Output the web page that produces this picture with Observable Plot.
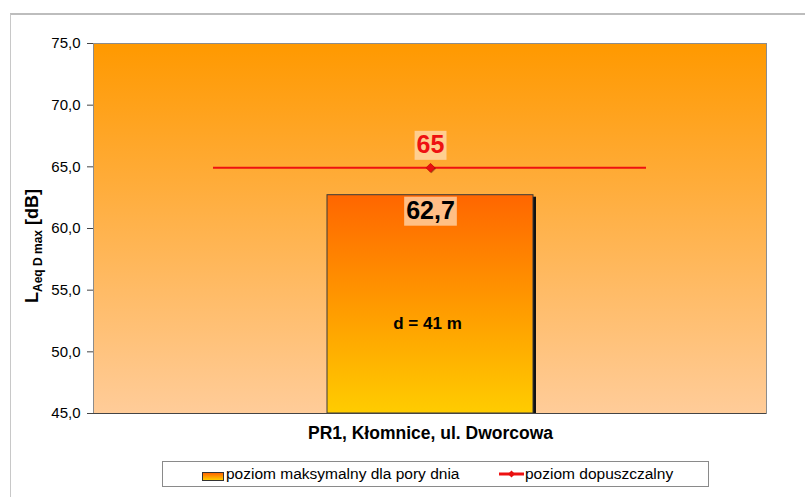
<!DOCTYPE html>
<html>
<head>
<meta charset="utf-8">
<script src="https://cdn.jsdelivr.net/npm/d3@7"></script>
<script src="https://cdn.jsdelivr.net/npm/@observablehq/plot@0.6"></script>
<style>
  html, body { margin: 0; padding: 0; background: #fff; }
  #wrap { position: relative; width: 805px; height: 497px; overflow: hidden; font-family: "Liberation Sans", Arial, sans-serif; }
  #border { position: absolute; left: 10px; top: 13px; width: 820px; height: 520px; border-top: 2px solid #bdbdbd; border-left: 1px solid #c8c8c8; }
  #chart { position: absolute; left: 0; top: 0; }
  #legend { position: absolute; left: 162px; top: 461px; width: 545px; height: 24px; border: 1px solid #8a8a8a; background: #fff; font-size: 15.5px; color: #000; }
  .item { position: absolute; top: 0; height: 24px; line-height: 24px; white-space: nowrap; }
  .swatch { position: absolute; width: 20px; height: 7px; top: 10px; border: 1px solid #333; background: linear-gradient(#ff6600, #ffcc00); }
</style>
</head>
<body>
<div id="wrap">
  <div id="border"></div>
  <div id="chart"></div>
  <div id="legend"></div>
</div>
<script>
// ---- data ----
const categories = ["PR1, Kłomnice, ul. Dworcowa"];
const measured = [62.7];          // poziom maksymalny dla pory dnia
const permitted = [65];           // poziom dopuszczalny
const distanceLabels = ["d = 41 m"];
const yTicks = [45, 50, 55, 60, 65, 70, 75];
const seriesNames = ["poziom maksymalny dla pory dnia", "poziom dopuszczalny"];

const rows = categories.map((c, i) => ({cat: c, val: measured[i], lim: permitted[i], d: distanceLabels[i]}));
const fmt = v => v.toFixed(1).replace(".", ",");
const fmtShort = v => (Number.isInteger(v) ? String(v) : v.toFixed(1)).replace(".", ",");

const plot = Plot.plot({
  width: 805,
  height: 450,
  marginLeft: 93,
  marginRight: 39,
  marginTop: 43,
  marginBottom: 37,
  style: {fontFamily: "'Liberation Sans', Arial, sans-serif", background: "transparent", overflow: "visible"},
  x: {type: "band", domain: categories, padding: 0.531, label: null},
  y: {domain: [45, 75], label: null},
  marks: [
    Plot.frame({fill: "url(#bgGrad)", stroke: "#8c8c8c"}),
    // bar shadow
    Plot.barY(rows, {x: "cat", y1: 45, y2: "val", fill: "#111", dx: 3, dy: 2, insetBottom: 2}),
    Plot.barY(rows, {x: "cat", y1: 45, y2: "val", fill: "url(#barGrad)", stroke: "#3a3a3a", strokeWidth: 1}),
    Plot.ruleY([45], {stroke: "#444", strokeWidth: 1}),
    Plot.tickY(rows, {x: "cat", y: "lim", stroke: "#ee1111", strokeWidth: 2, insetLeft: -114, insetRight: -113, dy: 1}),
    // marker shadow + marker
    Plot.dot(rows, {x: "cat", y: "lim", symbol: "square", r: 3.6, fill: "rgba(80,0,0,0.45)", dx: 1, dy: 2, rotate: 45}),
    Plot.dot(rows, {x: "cat", y: "lim", symbol: "square", r: 3.6, fill: "#e81010", stroke: "#b00", strokeWidth: 0.5, dy: 1, rotate: 45}),
    Plot.text(rows, {x: "cat", y: "lim", text: d => fmtShort(d.lim), dy: -22, fill: "#ee1111", fontSize: 25, fontWeight: "bold"}),
    Plot.text(rows, {x: "cat", y: "val", text: d => fmt(d.val), dy: 15.5, fill: "#000", fontSize: 25, fontWeight: "bold"}),
    Plot.text(rows, {x: "cat", y: "val", text: "d", dy: 128, dx: -3, fill: "#000", fontSize: 17, fontWeight: "bold"}),
    Plot.axisY({ticks: yTicks, tickFormat: fmt, tickSize: 6, tickPadding: 7, fontSize: 15, stroke: "#444", color: "#000"}),
    Plot.axisX({tickSize: 0, tickPadding: 13, fontSize: 17.5, fontWeight: "bold", color: "#000"})
  ]
});

document.getElementById("chart").appendChild(plot);
const svg = d3.select(plot);
const defs = svg.insert("defs", ":first-child");
const bg = defs.append("linearGradient").attr("id", "bgGrad").attr("x1", 0).attr("y1", 0).attr("x2", 0).attr("y2", 1);
bg.append("stop").attr("offset", "0%").attr("stop-color", "#ff9900");
bg.append("stop").attr("offset", "100%").attr("stop-color", "#ffcc99");
const bar = defs.append("linearGradient").attr("id", "barGrad").attr("x1", 0).attr("y1", 0).attr("x2", 0).attr("y2", 1);
bar.append("stop").attr("offset", "0%").attr("stop-color", "#ff6600");
bar.append("stop").attr("offset", "100%").attr("stop-color", "#ffcc00");

// label background boxes
svg.selectAll("text").each(function() {
  const t = this.textContent;
  if (t === fmtShort(permitted[0]) || t === fmt(measured[0])) {
    const b = this.getBBox();
    const r = document.createElementNS("http://www.w3.org/2000/svg", "rect");
    r.setAttribute("x", b.x - 2);
    r.setAttribute("y", b.y + 1);
    r.setAttribute("width", b.width + 4);
    r.setAttribute("height", b.height + 1);
    r.setAttribute("fill", "rgba(255,222,185,0.72)");
    const tr = this.getAttribute("transform");
    if (tr) r.setAttribute("transform", tr);
    this.parentNode.insertBefore(r, this);
  }
});

// y axis label with subscript
const yl = svg.append("text")
  .attr("transform", "translate(38,246) rotate(-90)")
  .attr("text-anchor", "middle")
  .attr("font-weight", "bold")
  .attr("font-size", 18)
  .attr("fill", "#000");
yl.append("tspan").text("L");
yl.append("tspan").attr("font-size", 12).attr("dy", 4).text("Aeq D max");
yl.append("tspan").attr("dy", -4).text(" [dB]");

// legend
const leg = document.getElementById("legend");
leg.innerHTML = `
  <div class="swatch" style="left:39px"></div>
  <div class="item" style="left:63px">${seriesNames[0]}</div>
  <svg style="position:absolute;left:336px;top:6px" width="26" height="12">
    <line x1="0" y1="6" x2="25" y2="6" stroke="#ee1111" stroke-width="3"/>
    <path d="M12.5 2.5 L16 6 L12.5 9.5 L9 6 Z" fill="#e81010"/>
  </svg>
  <div class="item" style="left:362px">${seriesNames[1]}</div>`;
</script>
</body>
</html>
